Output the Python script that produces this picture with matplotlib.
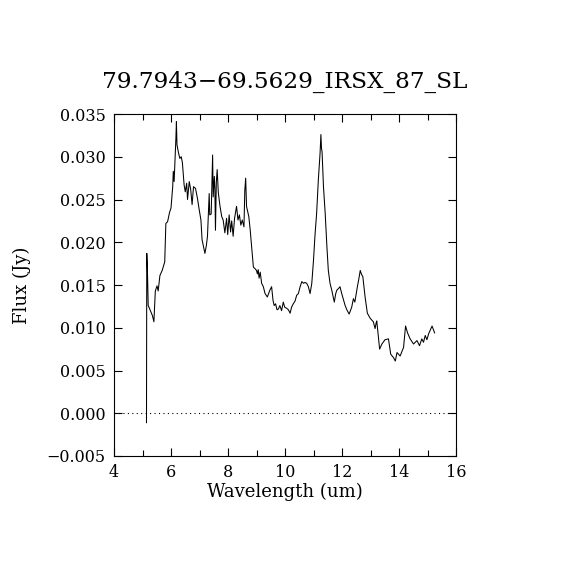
import matplotlib
matplotlib.use('Agg')
import matplotlib.pyplot as plt
from matplotlib.ticker import MultipleLocator

# spectrum (wavelength in um, flux in Jy)
wave = [5.14, 5.15, 5.17, 5.20, 5.24, 5.30, 5.35, 5.40, 5.45, 5.51, 5.55, 5.61, 5.69, 5.78,
        5.82, 5.88, 5.95, 6.00, 6.06, 6.08, 6.11, 6.17, 6.19, 6.21, 6.26, 6.31, 6.36, 6.40,
        6.46, 6.50, 6.55, 6.58, 6.64, 6.69, 6.74, 6.79, 6.86, 6.93, 6.98, 7.05, 7.09, 7.14,
        7.19, 7.24, 7.28, 7.34, 7.36, 7.41, 7.46, 7.48, 7.52, 7.54, 7.56, 7.59, 7.62, 7.66,
        7.72, 7.78, 7.83, 7.89, 7.95, 7.99, 8.04, 8.09, 8.13, 8.18, 8.23, 8.30, 8.35, 8.40,
        8.45, 8.50, 8.56, 8.59, 8.62, 8.65, 8.73, 8.78, 8.83, 8.89, 8.95, 9.00, 9.03, 9.06,
        9.09, 9.13, 9.18, 9.24, 9.30, 9.38, 9.47, 9.53, 9.58, 9.62, 9.67, 9.72, 9.77, 9.82,
        9.88, 9.94, 9.99, 10.05, 10.12, 10.18, 10.23, 10.29, 10.35, 10.41, 10.47, 10.53,
        10.59, 10.65, 10.70, 10.76, 10.82, 10.88, 10.94, 11.00, 11.05, 11.11, 11.17, 11.23,
        11.26, 11.28, 11.30, 11.35, 11.41, 11.47, 11.52, 11.58, 11.64, 11.73, 11.78, 11.82,
        11.88, 11.93, 11.99, 12.05, 12.11, 12.17, 12.25, 12.34, 12.40, 12.45, 12.54, 12.59,
        12.64, 12.69, 12.73, 12.81, 12.89, 12.99, 13.10, 13.16, 13.20, 13.22, 13.25, 13.32,
        13.40, 13.51, 13.63, 13.71, 13.81, 13.87, 13.93, 14.04, 14.16, 14.23, 14.30, 14.39,
        14.51, 14.63, 14.72, 14.80, 14.86, 14.92, 14.98, 15.04, 15.16, 15.25]
flux = [-0.0011, 0.0187, 0.0172, 0.0126, 0.0123, 0.0118, 0.0114, 0.0107, 0.0143, 0.0149,
        0.0143, 0.0161, 0.0167, 0.0177, 0.0222, 0.0224, 0.0235, 0.0240, 0.0265, 0.0283,
        0.0271, 0.0320, 0.0341, 0.0314, 0.0305, 0.0298, 0.0300, 0.0293, 0.0267, 0.0259,
        0.0269, 0.0250, 0.0271, 0.0262, 0.0244, 0.0265, 0.0263, 0.0251, 0.0240, 0.0226,
        0.0203, 0.0195, 0.0187, 0.0196, 0.0207, 0.0257, 0.0232, 0.0233, 0.0302, 0.0253,
        0.0277, 0.0262, 0.0214, 0.0270, 0.0285, 0.0258, 0.0242, 0.0230, 0.0226, 0.0211,
        0.0228, 0.0209, 0.0232, 0.0212, 0.0225, 0.0207, 0.0228, 0.0242, 0.0226, 0.0232,
        0.0220, 0.0226, 0.0218, 0.0261, 0.0275, 0.0242, 0.0230, 0.0214, 0.0195, 0.0171,
        0.0169, 0.0167, 0.0163, 0.0168, 0.0158, 0.0165, 0.0152, 0.0148, 0.0140, 0.0136,
        0.0144, 0.0148, 0.0132, 0.0126, 0.0128, 0.0121, 0.0122, 0.0126, 0.0120, 0.0130,
        0.0124, 0.0123, 0.0121, 0.0117, 0.0124, 0.0128, 0.0131, 0.0138, 0.0140, 0.0148,
        0.0154, 0.0152, 0.0153, 0.0152, 0.0148, 0.0140, 0.0152, 0.0179, 0.0207, 0.0234,
        0.0273, 0.0304, 0.0326, 0.0310, 0.0306, 0.0265, 0.0234, 0.0195, 0.0167, 0.0152,
        0.0144, 0.0130, 0.0140, 0.0144, 0.0146, 0.0148, 0.0140, 0.0133, 0.0126, 0.0121,
        0.0116, 0.0124, 0.0134, 0.0130, 0.0148, 0.0157, 0.0167, 0.0162, 0.0160, 0.0136,
        0.0117, 0.0111, 0.0107, 0.0099, 0.0106, 0.0108, 0.0098, 0.0075, 0.0081, 0.0086,
        0.0087, 0.0069, 0.0065, 0.0061, 0.0071, 0.0067, 0.0077, 0.0102, 0.0094, 0.0087,
        0.0081, 0.0085, 0.0079, 0.0087, 0.0083, 0.0091, 0.0086, 0.0093, 0.0102, 0.0094]

title = '79.7943\u221269.5629_IRSX_87_SL'

plt.rcParams['font.family'] = ['DejaVu Serif']
plt.rcParams['axes.unicode_minus'] = True

fig = plt.figure(figsize=(5.7, 5.7), dpi=100)
ax = fig.add_axes([0.2, 0.2, 0.6, 0.6])

ax.plot(wave, flux, color='black', linewidth=0.75)
ax.axhline(0.0, color='black', linestyle=(0, (1, 3)), linewidth=0.8)

ax.set_xlim(4, 16)
ax.set_ylim(-0.005, 0.035)
ax.xaxis.set_major_locator(MultipleLocator(2))
ax.xaxis.set_minor_locator(MultipleLocator(1))
ax.yaxis.set_major_locator(MultipleLocator(0.005))
ax.yaxis.set_major_formatter(plt.FuncFormatter(lambda v, p: f'{v:.3f}'.replace('-', '\u2212')))

ax.tick_params(which='both', direction='in', top=True, right=True, labelsize=11.5, width=0.8)
ax.tick_params(which='major', length=5.5, pad=6)
ax.tick_params(which='minor', length=4.5)
for s in ax.spines.values():
    s.set_linewidth(0.8)

fig.text(0.5, 0.857, title, ha='center', va='center', fontsize=16.7)
fig.text(0.5, 0.137, 'Wavelength (um)', ha='center', va='center', fontsize=13)
fig.text(0.039, 0.5, 'Flux (Jy)', ha='center', va='center', rotation=90, fontsize=13)

fig.savefig('out.png', dpi=100)
